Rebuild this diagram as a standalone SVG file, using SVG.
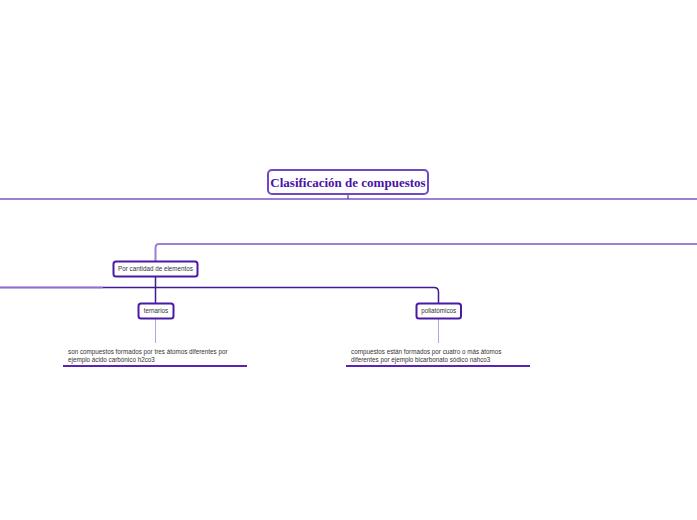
<svg xmlns="http://www.w3.org/2000/svg" width="697" height="520" viewBox="0 0 697 520">
<style>
.box{fill:#fff;stroke-width:2}
.t{font-family:"Liberation Sans",Arial,sans-serif;font-size:6.3px;fill:#333}
.light{stroke:#9b7fd1;stroke-width:2;fill:none}
.dark{stroke:#3f1a91;stroke-width:1.5;fill:none}
.thin{stroke:#b9a3e3;stroke-width:1;fill:none}
</style>
<rect width="697" height="520" fill="#fff"/>
<g id="connectors">
<line class="light" x1="0" y1="199" x2="697" y2="199"/>
<line x1="348" y1="194" x2="348" y2="199" stroke="#3f1a91" stroke-width="1"/>
<path class="light" d="M697,244 H159 Q155.5,244 155.5,248 V261"/>
<path class="dark" d="M155.5,276 V303"/>
<path class="dark" d="M0,287.5 H434 Q438.5,287.5 438.5,292 V303"/>
<line x1="0" y1="287.5" x2="103" y2="287.5" stroke="#8c6fcc" stroke-width="1.5"/>
<line class="thin" x1="155.5" y1="318" x2="155.5" y2="343"/>
<line class="thin" x1="438.5" y1="318" x2="438.5" y2="343"/>
<line x1="63" y1="366" x2="247" y2="366" stroke="#5a22b8" stroke-width="2"/>
<line x1="346" y1="366" x2="530" y2="366" stroke="#5a22b8" stroke-width="2"/>
</g>
<g id="root">
<rect class="box" x="268" y="170" width="160" height="24" rx="4" stroke="#7048c4" stroke-width="1.5"/>
<text x="348" y="186.5" text-anchor="middle" font-family="'Liberation Serif',serif" font-weight="bold" font-size="13" fill="#4a12a6">Clasificación de compuestos</text>
</g>
<g id="cantidad">
<rect class="box" x="113.5" y="261.5" width="84" height="15" rx="2.5" stroke="#4a1aa6"/>
<text class="t" x="155.5" y="271.2" text-anchor="middle">Por cantidad de elementos</text>
</g>
<g id="ternarios">
<rect class="box" x="138.5" y="303.5" width="35" height="15" rx="2.5" stroke="#4a1aa6"/>
<text class="t" x="156" y="313.2" text-anchor="middle">ternarios</text>
</g>
<g id="poliatomicos">
<rect class="box" x="416.5" y="303.5" width="44.5" height="15" rx="2.5" stroke="#4a1aa6"/>
<text class="t" x="438.7" y="313.2" text-anchor="middle">poliatómicos</text>
</g>
<g id="ternarios-desc">
<text class="t" x="68" y="354">son compuestos formados por tres átomos diferentes por</text>
<text class="t" x="68" y="362">ejemplo ácido carbónico h2co3</text>
</g>
<g id="poliatomicos-desc">
<text class="t" x="351" y="354">compuestos están formados por cuatro o más átomos</text>
<text class="t" x="351" y="362">diferentes por ejemplo bicarbonato sódico nahco3</text>
</g>
</svg>
